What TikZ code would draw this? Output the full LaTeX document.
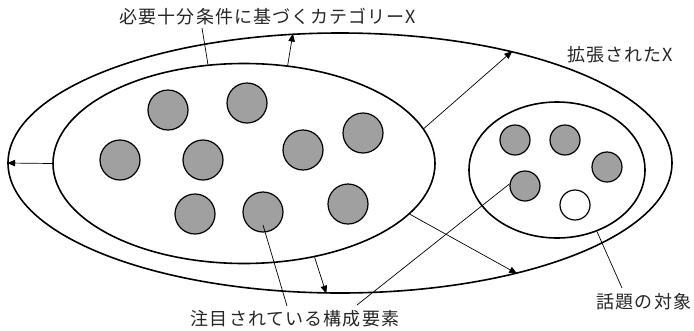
\documentclass[tikz,border=0pt]{standalone}
\usepackage{fontspec}
\newfontfamily\jpfont[LetterSpace=6]{Noto Sans CJK JP}
\definecolor{dotgray}{RGB}{160,160,160}
\usetikzlibrary{arrows.meta, shapes.geometric}

\begin{document}
\begin{tikzpicture}[x=1pt, y=-1pt,
    every node/.style={font=\jpfont\fontsize{18}{20}\selectfont, text=black!85},
    region/.style={ellipse, draw, line width=1.6pt, inner sep=0pt},
    member/.style={circle, draw, line width=1.2pt, fill=dotgray, minimum size=40pt, inner sep=0pt},
    small/.style={member, minimum size=30pt},
    arrow/.style={-{Triangle[length=8pt, width=6.5pt]}, line width=0.7pt},
    leader/.style={line width=0.7pt}
]
\useasboundingbox (0,0) rectangle (694,330);

% Regions
\node[region, minimum width=664pt, minimum height=260pt] (outer) at (340,163) {};
\node[region, minimum width=382pt, minimum height=200pt] (inner) at (244,163.5) {};
\node[region, minimum width=176pt, minimum height=136pt] (topic) at (557,170) {};

% Members of the category
\node[member] (d1) at (168,110) {};
\node[member] (d2) at (247,103) {};
\node[member] (d3) at (120,160) {};
\node[member] (d4) at (203,160) {};
\node[member] (d5) at (303,150) {};
\node[member] (d6) at (363,133) {};
\node[member] (d7) at (195,214) {};
\node[member] (d8) at (263,212) {};
\node[member] (d9) at (348,204) {};

% Members of the topic
\node[small] (r1) at (515,140) {};
\node[small] (r2) at (565,140) {};
\node[small] (r3) at (607,167) {};
\node[small] (r4) at (525,186) {};
\node[small, fill=white] (r5) at (575,205) {};

% Labels
\node (catlabel) at (268,17) {必要十分条件に基づくカテゴリーX};
\node (extlabel) at (620,55) {拡張されたX};
\node (memlabel) at (295,319) {注目されている構成要素};
\node (topiclabel) at (644,302) {話題の対象};
\coordinate (c1) at (202,28);
\coordinate (c2) at (287,306);
\coordinate (c3) at (357,305);
\coordinate (c4) at (622,288);

% Connections
\draw[arrow] (inner.66) -- (outer.110);
\draw[arrow] (inner.11) -- (outer.33.4);
\draw[arrow] (inner.180) -- (outer.180);
\draw[arrow] (inner.-53) -- (outer.-96.6);
\draw[arrow] (inner.-17) -- (outer.-32);
\draw[leader] (inner.110) -- (c1);
\draw[leader] ([yshift=-13pt]d8.center) -- (c2);
\draw[leader] (r4.172) -- (c3);
\draw[leader] (topic.-57.6) -- (c4);

\end{tikzpicture}
\end{document}
